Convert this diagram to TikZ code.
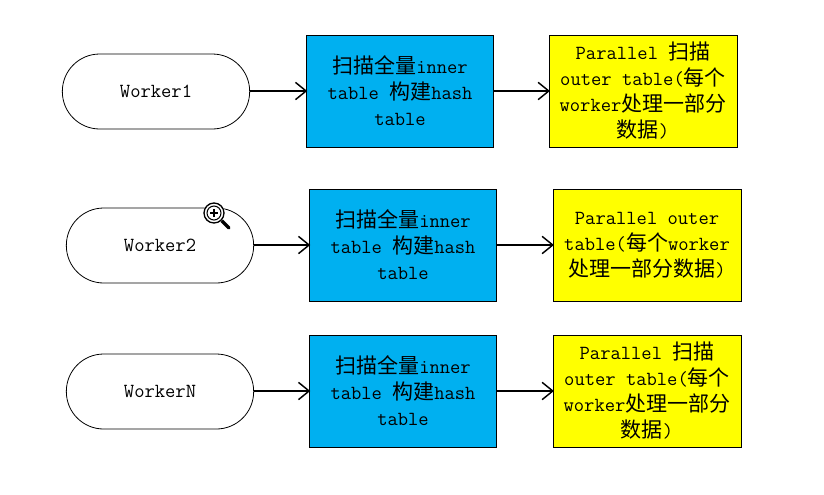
\documentclass[tikz,border=0pt]{standalone}
\usepackage{fontspec}
\usepackage{xcolor}
\newfontfamily\cjk[Scale=1.05]{Noto Sans CJK SC}
\usetikzlibrary{arrows.meta, positioning, calc}
\definecolor{JoinBlue}{RGB}{0, 176, 240}
\definecolor{JoinYellow}{RGB}{255, 255, 0}
\tikzset{
  workerbox/.style={draw=black, line width=0.6pt, fill=white, rounded corners=28pt, minimum width=140.5pt, minimum height=56.25pt, inner sep=0pt, font=\ttfamily\fontsize{15}{20}\selectfont},
  buildbox/.style={draw=black, line width=0.6pt, fill=JoinBlue, minimum width=140.5pt, minimum height=84pt, inner sep=0pt, align=center, font=\ttfamily\fontsize{15}{19.5}\selectfont},
  probebox/.style={draw=black, line width=0.6pt, fill=JoinYellow, minimum width=141pt, minimum height=84pt, inner sep=0pt, align=center, font=\ttfamily\fontsize{15}{19.5}\selectfont},
  flowline/.style={draw=black, line width=1.1pt, -{Straight Barb[length=8pt,width=13pt]}, shorten >=-1pt}
}
\begin{document}
\begin{tikzpicture}[x=0.75pt,y=-0.75pt]
  \path[use as bounding box] (0,0) rectangle (824,494);
  \fill[white] (0,0) rectangle (824,494);
  \node[workerbox] (worker1) at (156,91.5) {Worker1};
  \node[buildbox] (build1) at (400,91) {{\cjk 扫描全量}inner\\table {\cjk 构建}hash\\table};
  \node[probebox] (probe1) at (643,91) {Parallel {\cjk 扫描}\\outer table({\cjk 每个}\\worker{\cjk 处理一部分}\\{\cjk 数据})};
  \node[workerbox] (worker2) at (160,245.5) {Worker2};
  \node[buildbox] (build2) at (403,245) {{\cjk 扫描全量}inner\\table {\cjk 构建}hash\\table};
  \node[probebox] (probe2) at (647,245) {Parallel outer\\table({\cjk 每个}worker\\{\cjk 处理一部分数据})};
  \node[workerbox] (workerN) at (160,391.5) {WorkerN};
  \node[buildbox] (buildN) at (403,391) {{\cjk 扫描全量}inner\\table {\cjk 构建}hash\\table};
  \node[probebox] (probeN) at (647,391) {Parallel {\cjk 扫描}\\outer table({\cjk 每个}\\worker{\cjk 处理一部分}\\{\cjk 数据})};
  \draw[flowline] (worker1.east |- build1.west) -- (build1.west);
  \draw[flowline] (build1) -- (probe1);
  \draw[flowline] (worker2.east |- build2.west) -- (build2.west);
  \draw[flowline] (build2) -- (probe2);
  \draw[flowline] (workerN.east |- buildN.west) -- (buildN.west);
  \draw[flowline] (buildN) -- (probeN);
  % magnifier on Worker2
  \draw[black, line width=2.4pt, line cap=round] (221,220) -- (229,228);
  \fill[white] (214,213) circle (11);
  \draw[black, line width=1pt, fill=white] (214,213) circle (10);
  \draw[black, line width=0.8pt] (214,213) circle (7);
  \draw[black, line width=1.3pt] (210,213) -- (218,213) (214,209) -- (214,217);
\end{tikzpicture}
\end{document}
